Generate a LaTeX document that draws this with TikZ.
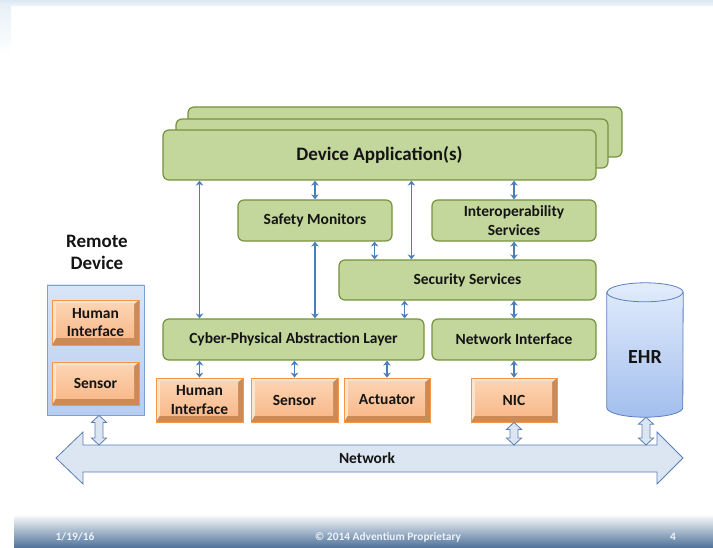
\documentclass[tikz,border=0pt]{standalone}
\usepackage{fontspec}
\setmainfont{Carlito}
\usetikzlibrary{arrows.meta,calc}
\definecolor{gfill}{HTML}{C3D69B}
\definecolor{gborder}{HTML}{76923C}
\definecolor{ablue}{HTML}{4A7EBB}
\definecolor{oborder}{HTML}{F79646}
\definecolor{otop}{HTML}{FCD3B1}
\definecolor{obot}{HTML}{F9BA8C}
\definecolor{olight}{HTML}{FDE4CF}
\definecolor{odark}{HTML}{CC8A57}
\definecolor{bfill}{HTML}{DCE6F2}
\definecolor{bborder}{HTML}{5A7DB5}
\definecolor{txt}{HTML}{141414}
\definecolor{foot}{HTML}{4D7199}
\definecolor{headA}{HTML}{DCE8F4}
\definecolor{headB}{HTML}{EEF4FA}
\definecolor{headC}{HTML}{E8F1F8}
\definecolor{rborder}{HTML}{7EA1D3}
\definecolor{rtop}{HTML}{D9E5F8}
\definecolor{rbot}{HTML}{B7CDF1}
\definecolor{cborder}{HTML}{5B7FBF}
\definecolor{ctop}{HTML}{E2ECFB}
\definecolor{cbot}{HTML}{A3BFEE}
\definecolor{ftxt}{HTML}{EEF3F8}
\tikzset{
  boxfont/.style={font=\bfseries\fontsize{15.5}{18.5}\selectfont},
  greenbox/.style={draw=gborder, fill=gfill, line width=1.2pt, rounded corners=6pt,
    inner sep=0pt, boxfont, text=txt, align=center},
  orangebox/.style={draw=oborder, line width=0.8pt, inner sep=0pt,
    boxfont, text=txt, align=center,
    path picture={
      \fill[odark] (path picture bounding box.south west) rectangle (path picture bounding box.north east);
      \fill[olight] (path picture bounding box.south west) -- (path picture bounding box.north west)
        -- (path picture bounding box.north east) -- ([shift={(-5pt,-4pt)}]path picture bounding box.north east)
        -- ([shift={(4pt,-4pt)}]path picture bounding box.north west) -- ([shift={(4pt,7pt)}]path picture bounding box.south west) -- cycle;
      \shade[top color=otop, bottom color=obot] ([shift={(4pt,7pt)}]path picture bounding box.south west)
        rectangle ([shift={(-5pt,-4pt)}]path picture bounding box.north east);
    }},
  conn/.style={draw=ablue, line width=1.6pt, {Stealth[length=5pt,width=7.5pt]}-{Stealth[length=5pt,width=7.5pt]}},
  blk/.style={draw=bborder, fill=bfill, line width=0.8pt, line join=miter},
  foottext/.style={text=ftxt, font=\bfseries\fontsize{11.4}{13}\selectfont},
}
\begin{document}
\begin{tikzpicture}[x=1pt,y=-1pt]
\useasboundingbox (0,0) rectangle (713,548);
% header / footer decoration
\shade[top color=headA, bottom color=headB] (0,0) rectangle (713,6);
\shade[top color=headC, bottom color=white] (0,6) rectangle (11,55);
\shade[top color=white, bottom color=foot] (14,514) rectangle (713,548);
\node[foottext] (fdate) at (75,537) {1/19/16};
\node[foottext] (fcopy) at (388,537) {© 2014 Adventium Proprietary};
\node[foottext] (fpage) at (673,537) {4};

% device application stack
\node[greenbox, minimum width=434pt, minimum height=50pt] (da3) at (405,132) {};
\node[greenbox, minimum width=432pt, minimum height=49pt] (da2) at (392,143.5) {};
\node[greenbox, minimum width=433pt, minimum height=50pt, font=\bfseries\fontsize{19}{22}\selectfont] (da) at (379.5,155) {Device Application(s)};

\node[greenbox, minimum width=154pt, minimum height=41pt] (safety) at (315,220.5) {Safety Monitors};
\node[greenbox, minimum width=164pt, minimum height=41pt] (interop) at (514,220.5) {Interoperability\\Services};
\node[greenbox, minimum width=257pt, minimum height=40pt] (sec) at (467.5,280) {Security Services};
\node[greenbox, minimum width=261pt, minimum height=41pt] (cpal) at (293.5,339.5) {Cyber-Physical Abstraction Layer};
\node[greenbox, minimum width=164pt, minimum height=41pt] (netif) at (514,339.5) {Network Interface};

\node[orangebox, minimum width=87pt, minimum height=44pt] (hi) at (199.5,400) {Human\\Interface};
\node[orangebox, minimum width=87pt, minimum height=44pt] (sensor) at (294.5,400) {Sensor};
\node[orangebox, minimum width=86pt, minimum height=44pt] (act) at (387,400) {Actuator};
\node[orangebox, minimum width=86pt, minimum height=44pt] (nic) at (514,400) {NIC};

% remote device
\node[font=\bfseries\fontsize{19}{21.5}\selectfont, text=txt, align=center] (rdlabel) at (97,252.5) {Remote\\Device};
\node[draw=rborder, line width=0.8pt, top color=rtop, bottom color=rbot, minimum width=97pt, minimum height=130pt, inner sep=0pt] (remote) at (95.5,350) {};
\node[orangebox, minimum width=87pt, minimum height=45pt] (rhi) at (95.5,322.5) {Human\\Interface};
\node[orangebox, minimum width=87pt, minimum height=43pt] (rsensor) at (95.5,383.5) {Sensor};

% EHR (cylinder)
\node[minimum width=76pt, minimum height=134pt, inner sep=0pt] (ehr) at (645,350) {};
\shade[top color=ctop, bottom color=cbot, draw=cborder, line width=0.8pt]
  ([yshift=-9.5pt]ehr.north west) -- ([yshift=9.5pt]ehr.south west) arc (180:360:38pt and 9.5pt)
  -- ([yshift=-9.5pt]ehr.north east) arc (0:180:38pt and 9.5pt) -- cycle;
\draw[cborder, line width=0.8pt] ([yshift=-9.5pt]ehr.north west) arc (180:360:38pt and 9.5pt);
\node[font=\bfseries\fontsize{20}{22}\selectfont, text=txt] (ehrlabel) at (645,357) {EHR};

% network
\coordinate (nettop) at (367,445);
\draw[blk] (56,458) -- (83,432) -- (83,445) -- (657,445) -- (657,432) -- (683,458) -- (657,484) -- (657,472) -- (83,472) -- (83,484) -- cycle;
\node[boxfont, text=txt] (net) at (367,458) {Network};

% block arrows
\draw[blk] let \p1=([xshift=3.5pt]remote.south), \p2=(\p1 |- nettop) in
  (\x1,\y1) -- (\x1+7.5pt,\y1-7pt) -- (\x1+4pt,\y1-7pt) -- (\x1+4pt,\y2+7pt) -- (\x1+7.5pt,\y2+7pt) -- (\x1,\y2)
  -- (\x1-7.5pt,\y2+7pt) -- (\x1-4pt,\y2+7pt) -- (\x1-4pt,\y1-7pt) -- (\x1-7.5pt,\y1-7pt) -- cycle;
\draw[blk] let \p1=(nic.south), \p2=(\p1 |- nettop) in
  (\x1,\y1) -- (\x1+7.5pt,\y1-7pt) -- (\x1+4pt,\y1-7pt) -- (\x1+4pt,\y2+7pt) -- (\x1+7.5pt,\y2+7pt) -- (\x1,\y2)
  -- (\x1-7.5pt,\y2+7pt) -- (\x1-4pt,\y2+7pt) -- (\x1-4pt,\y1-7pt) -- (\x1-7.5pt,\y1-7pt) -- cycle;
\draw[blk] let \p1=([xshift=1pt]ehr.south), \p2=(\p1 |- nettop) in
  (\x1,\y1) -- (\x1+7.5pt,\y1-7pt) -- (\x1+4pt,\y1-7pt) -- (\x1+4pt,\y2+7pt) -- (\x1+7.5pt,\y2+7pt) -- (\x1,\y2)
  -- (\x1-7.5pt,\y2+7pt) -- (\x1-4pt,\y2+7pt) -- (\x1-4pt,\y1-7pt) -- (\x1-7.5pt,\y1-7pt) -- cycle;

% connectors
\path (sec.north west) ++(73,0) coordinate (c412);
\path (safety.south east) ++(-18,0) coordinate (c374);
\path (cpal.north east) ++(-20,0) coordinate (c404);
\draw[conn] (hi.north |- cpal.north) -- (hi.north |- da.south);
\draw[conn] (safety.north) -- (safety.north |- da.south);
\draw[conn] (c412) -- (c412 |- da.south);
\draw[conn] (interop.north) -- (interop.north |- da.south);
\draw[conn] (safety.south) -- (safety.south |- cpal.north);
\draw[conn] (c374) -- (c374 |- sec.north);
\draw[conn] (interop.south) -- (interop.south |- sec.north);
\draw[conn] (c404 |- sec.south) -- (c404);
\draw[conn] (netif.north |- sec.south) -- (netif.north);
\draw[conn] (hi.north |- cpal.south) -- (hi.north);
\draw[conn] (sensor.north |- cpal.south) -- (sensor.north);
\draw[conn] (act.north |- cpal.south) -- (act.north);
\draw[conn] (netif.south) -- (netif.south |- nic.north);
\end{tikzpicture}
\end{document}
